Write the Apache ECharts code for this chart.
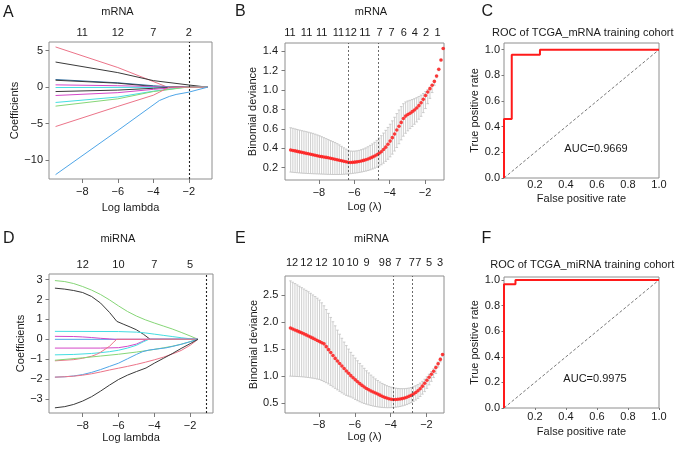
<!DOCTYPE html>
<html><head><meta charset="utf-8">
<script src="https://cdn.jsdelivr.net/npm/echarts@6/dist/echarts.min.js"></script>
<style>html,body{margin:0;padding:0;background:#fff}#c{width:677px;height:453px}</style>
</head><body><div id="c"></div>
<script>
// ---------- Panel A: mRNA coefficient paths (log lambda, coefficient) ----------
const mrnaPath1  = [[-9.5,5.52],[-6,2.7],[-3.2,0],[-0.95,0]];
const mrnaPath2  = [[-9.5,3.45],[-6,2.0],[-4,0.9],[-2,0.3],[-0.95,0]];
const mrnaPath3  = [[-9.5,1.05],[-6,0.6],[-4,0.2],[-2.8,0],[-0.95,0]];
const mrnaPath4  = [[-9.5,0.95],[-6,0.55],[-4,0.1],[-3.3,0],[-0.95,0]];
const mrnaPath5  = [[-9.5,0.32],[-6,0.2],[-3.5,0.05],[-2.8,0],[-0.95,0]];
const mrnaPath6  = [[-9.5,-0.05],[-4,-0.02],[-3,0],[-0.95,0]];
const mrnaPath7  = [[-9.5,-0.6],[-6,-0.4],[-4,-0.15],[-2.8,0],[-0.95,0]];
const mrnaPath8  = [[-9.5,-1.14],[-6,-0.75],[-4,-0.3],[-2.5,0],[-0.95,0]];
const mrnaPath9  = [[-9.5,-2.1],[-6,-1.35],[-4,-0.55],[-2.2,0],[-0.95,0]];
const mrnaPath10 = [[-9.5,-2.6],[-6,-1.6],[-4,-0.6],[-2.1,0],[-0.95,0]];
const mrnaPath11 = [[-9.5,-5.4],[-6,-2.64],[-4,-1.1],[-3.1,0],[-0.95,0]];
const mrnaPath12 = [[-9.5,-12.0],[-6,-5.95],[-3.66,-1.83],[-3.1,-1.27],[-2.72,-1.0],[-2,-0.68],[-0.95,0]];
const mrnaTopPos = [-8,-6,-4,-2];
const mrnaTopLab = ['11','12','7','2'];
const mrnaLambdaLine = [-2];

// ---------- Panel B: mRNA CV binomial deviance ----------
const bLogLambda = [-9.600,-9.475,-9.350,-9.225,-9.100,-8.975,-8.850,-8.725,-8.600,-8.475,-8.350,-8.225,-8.100,-7.975,-7.850,-7.725,-7.600,-7.475,-7.350,-7.225,-7.100,-6.975,-6.850,-6.725,-6.600,-6.475,-6.350,-6.225,-6.100,-5.975,-5.850,-5.725,-5.600,-5.475,-5.350,-5.225,-5.100,-4.975,-4.850,-4.725,-4.600,-4.475,-4.350,-4.225,-4.100,-3.975,-3.850,-3.725,-3.600,-3.475,-3.350,-3.225,-3.100,-2.975,-2.850,-2.725,-2.600,-2.475,-2.350,-2.225,-2.100,-1.975,-1.850,-1.725,-1.600,-1.475,-1.350,-1.225,-1.100,-0.975];
const bMean = [0.383,0.378,0.373,0.368,0.363,0.358,0.353,0.348,0.343,0.338,0.333,0.328,0.323,0.318,0.314,0.310,0.306,0.302,0.297,0.292,0.287,0.282,0.277,0.271,0.266,0.261,0.256,0.254,0.255,0.257,0.260,0.264,0.269,0.275,0.282,0.290,0.299,0.309,0.320,0.333,0.348,0.365,0.387,0.412,0.441,0.474,0.510,0.548,0.588,0.628,0.667,0.708,0.732,0.748,0.762,0.778,0.795,0.815,0.840,0.870,0.905,0.945,0.980,1.015,1.050,1.090,1.145,1.215,1.310,1.430];
const bUpper = [0.612,0.606,0.600,0.594,0.588,0.582,0.577,0.572,0.566,0.560,0.554,0.546,0.538,0.530,0.520,0.510,0.500,0.490,0.480,0.470,0.460,0.448,0.435,0.420,0.405,0.392,0.380,0.372,0.370,0.371,0.374,0.379,0.386,0.394,0.404,0.416,0.430,0.445,0.462,0.482,0.505,0.530,0.557,0.585,0.615,0.648,0.683,0.720,0.758,0.795,0.830,0.860,0.878,0.888,0.895,0.903,0.912,0.922,0.934,0.948,0.965,0.985,1.005,1.030,1.060,1.098,1.150,1.218,1.316,1.434];
const bLower = [0.155,0.152,0.150,0.148,0.146,0.144,0.142,0.141,0.140,0.139,0.138,0.137,0.136,0.135,0.134,0.133,0.132,0.131,0.131,0.130,0.130,0.130,0.130,0.131,0.132,0.134,0.136,0.138,0.141,0.144,0.147,0.151,0.155,0.160,0.165,0.171,0.178,0.186,0.195,0.205,0.217,0.230,0.246,0.265,0.287,0.312,0.340,0.372,0.408,0.447,0.487,0.525,0.555,0.580,0.603,0.625,0.648,0.672,0.700,0.730,0.768,0.810,0.860,0.915,0.975,1.050,1.128,1.200,1.302,1.425];
const bTopPos = [-9.64,-8.7,-7.85,-6.9,-6.2,-5.4,-4.57,-3.9,-3.2,-2.58,-1.95,-1.3];
const bTopLab = ['11','11','11','11','12','11','7','7','6','4','2','1'];
const bLambdaLines = [-6.34,-4.65];

// ---------- Panel C: ROC mRNA ----------
const cRoc = [[0,0],[0,0.46],[0.05,0.46],[0.05,0.96],[0.232,0.96],[0.232,1],[1,1]];
const cAuc = 'AUC=0.9669';

// ---------- Panel D: miRNA coefficient paths ----------
const mirPath1  = [[-9.55,2.95],[-9,2.9],[-8.5,2.8],[-8,2.65],[-7.5,2.47],[-7,2.25],[-6.5,1.98],[-6,1.68],[-5.5,1.4],[-5,1.17],[-4.5,0.98],[-4,0.82],[-3.5,0.67],[-3,0.52],[-2.5,0.35],[-2,0.17],[-1.56,0]];
const mirPath2  = [[-9.55,2.57],[-9,2.52],[-8.5,2.45],[-8,2.35],[-7.5,2.15],[-7,1.82],[-6.5,1.35],[-6.09,0.9],[-5.7,0.75],[-5.35,0.62],[-5,0.48],[-4.6,0.25],[-4.23,0],[-1.56,0]];
const mirPath3  = [[-9.55,0.4],[-6,0.39],[-5,0.36],[-4.5,0.32],[-4,0.26],[-3.5,0.2],[-3,0.14],[-2.5,0.08],[-2,0.03],[-1.56,0]];
const mirPath4  = [[-9.55,0.15],[-8.5,0.14],[-8,0.12],[-7.5,0.09],[-7,0.05],[-6.5,0.02],[-6.2,0],[-1.56,0]];
const mirPath5  = [[-9.55,0],[-1.56,0]];
const mirPath6  = [[-9.55,-0.44],[-7,-0.44],[-6,-0.42],[-5.5,-0.35],[-5,-0.24],[-4.7,-0.12],[-4.4,0],[-1.56,0]];
const mirPath7  = [[-9.55,-0.78],[-8.5,-0.76],[-7.5,-0.71],[-7,-0.67],[-6.5,-0.62],[-6,-0.55],[-5.5,-0.44],[-5,-0.3],[-4.6,-0.12],[-4.3,0],[-1.56,0]];
const mirPath8  = [[-9.55,-1.08],[-8.5,-1.02],[-8,-0.95],[-7.5,-0.85],[-7.23,-0.76],[-7,-0.65],[-6.75,-0.5],[-6.5,-0.35],[-6.3,-0.17],[-6.1,0],[-1.56,0]];
const mirPath9  = [[-9.55,-1.05],[-8,-0.93],[-7,-0.84],[-6,-0.75],[-5,-0.64],[-4.3,-0.55],[-3.5,-0.43],[-3,-0.35],[-2.5,-0.25],[-2,-0.12],[-1.56,0]];
const mirPath10 = [[-9.55,-1.9],[-9,-1.88],[-8.5,-1.84],[-8,-1.77],[-7.5,-1.66],[-7,-1.52],[-6.5,-1.36],[-6,-1.2],[-5.5,-0.98],[-5,-0.76],[-4.65,-0.62],[-4.3,-0.54],[-3.8,-0.48],[-3.35,-0.43],[-3,-0.36],[-2.5,-0.25],[-2,-0.12],[-1.56,0]];
const mirPath11 = [[-9.55,-1.9],[-9,-1.88],[-8.5,-1.85],[-8,-1.8],[-7.5,-1.73],[-7,-1.64],[-6.5,-1.54],[-6,-1.45],[-5.5,-1.36],[-5,-1.26],[-4.5,-1.15],[-4,-1.03],[-3.5,-0.9],[-3,-0.74],[-2.5,-0.56],[-2,-0.3],[-1.56,0]];
const mirPath12 = [[-9.55,-3.44],[-9,-3.38],[-8.5,-3.27],[-8,-3.1],[-7.5,-2.88],[-7,-2.6],[-6.5,-2.3],[-6,-2.02],[-5.5,-1.8],[-5,-1.62],[-4.46,-1.44],[-4,-1.2],[-3.5,-0.96],[-3,-0.72],[-2.5,-0.46],[-2,-0.22],[-1.56,0]];
const mirTopPos = [-8,-6,-4,-2];
const mirTopLab = ['12','10','7','5'];
const mirLambdaLine = [-1.1];

// ---------- Panel E: miRNA CV binomial deviance ----------
const eLogLambda = [-9.600,-9.475,-9.350,-9.225,-9.100,-8.975,-8.850,-8.725,-8.600,-8.475,-8.350,-8.225,-8.100,-7.975,-7.850,-7.725,-7.600,-7.475,-7.350,-7.225,-7.100,-6.975,-6.850,-6.725,-6.600,-6.475,-6.350,-6.225,-6.100,-5.975,-5.850,-5.725,-5.600,-5.475,-5.350,-5.225,-5.100,-4.975,-4.850,-4.725,-4.600,-4.475,-4.350,-4.225,-4.100,-3.975,-3.850,-3.725,-3.600,-3.475,-3.350,-3.225,-3.100,-2.975,-2.850,-2.725,-2.600,-2.475,-2.350,-2.225,-2.100,-1.975,-1.850,-1.725,-1.600,-1.475,-1.350,-1.225,-1.100];
const eMean = [1.890,1.872,1.854,1.836,1.818,1.800,1.782,1.762,1.742,1.722,1.702,1.681,1.660,1.639,1.618,1.597,1.545,1.490,1.436,1.382,1.328,1.281,1.234,1.188,1.142,1.097,1.053,1.010,0.970,0.932,0.896,0.862,0.830,0.800,0.773,0.749,0.727,0.707,0.689,0.672,0.650,0.630,0.612,0.596,0.584,0.575,0.570,0.570,0.573,0.578,0.586,0.597,0.611,0.628,0.648,0.671,0.698,0.730,0.768,0.816,0.870,0.925,0.980,1.035,1.092,1.160,1.230,1.310,1.400];
const eUpper = [2.760,2.735,2.710,2.685,2.660,2.635,2.610,2.585,2.560,2.530,2.500,2.470,2.440,2.405,2.355,2.300,2.230,2.160,2.085,2.005,1.930,1.850,1.775,1.700,1.630,1.565,1.500,1.440,1.385,1.335,1.285,1.235,1.190,1.145,1.100,1.060,1.020,0.985,0.950,0.920,0.892,0.866,0.845,0.826,0.810,0.797,0.787,0.779,0.773,0.770,0.769,0.770,0.774,0.781,0.791,0.805,0.823,0.845,0.872,0.905,0.944,0.988,1.035,1.084,1.135,1.190,1.260,1.335,1.415];
const eLower = [1.000,0.998,0.996,0.994,0.992,0.989,0.985,0.980,0.976,0.970,0.963,0.955,0.947,0.938,0.920,0.900,0.880,0.857,0.830,0.802,0.775,0.748,0.720,0.692,0.668,0.645,0.630,0.615,0.595,0.570,0.548,0.528,0.510,0.495,0.482,0.470,0.458,0.448,0.440,0.433,0.427,0.423,0.420,0.418,0.418,0.419,0.422,0.427,0.433,0.440,0.450,0.462,0.476,0.493,0.512,0.535,0.560,0.590,0.625,0.668,0.715,0.775,0.840,0.905,0.975,1.050,1.170,1.265,1.370];
const eTopPos = [-9.51,-8.71,-7.87,-6.93,-6.13,-5.35,-4.50,-4.13,-3.57,-2.82,-2.45,-1.85,-1.24];
const eTopLab = ['12','12','12','10','10','9','9','8','7','7','7','5','3'];
const eLambdaLines = [-3.86,-2.78];

// ---------- Panel F: ROC miRNA ----------
const fRoc = [[0,0],[0,0.966],[0.074,0.966],[0.074,1],[1,1]];
const fAuc = 'AUC=0.9975';

const diagonal = [[0,0],[1,1]];

// ================= rendering =================
const FONT = '"Liberation Sans", Arial, Helvetica, sans-serif';
const TXT = '#1a1a1a';
const TICKC = '#7a7a7a';
const BOX = '#8e8e8e';
const minus = s => String(s).replace('-', '\u2212');
const textStyle = {color: TXT, fontSize: 11, fontFamily: FONT};

function grid(left, top, width, height) {
  return {left, top, width, height, show: true, borderColor: BOX, borderWidth: 1,
          backgroundColor: 'transparent', containLabel: false, outerBoundsMode: 'none'};
}
function xBottom(gi, min, max, ticks, dec, margin, name, gap, tickLen) {
  return {type: 'value', gridIndex: gi, position: 'bottom', min, max,
    axisLine: {show: false, onZero: false}, splitLine: {show: false},
    axisTick: {show: tickLen > 0, customValues: ticks, length: tickLen, lineStyle: {color: TICKC, width: 1}},
    axisLabel: Object.assign({customValues: ticks, margin, formatter: v => minus(v.toFixed(dec))}, textStyle),
    name, nameLocation: 'middle', nameGap: gap, nameTextStyle: textStyle};
}
function xTop(gi, min, max, pos, labs, margin) {
  return {type: 'value', gridIndex: gi, position: 'top', min, max,
    axisLine: {show: false, onZero: false}, splitLine: {show: false}, axisTick: {show: false},
    axisLabel: Object.assign({customValues: pos, margin, formatter: v => {
      let b = 0; pos.forEach((p, i) => { if (Math.abs(p - v) < Math.abs(pos[b] - v)) b = i; });
      return labs[b]; }}, textStyle)};
}
function yLeft(gi, min, max, ticks, dec, margin, name, gap, tickLen) {
  return {type: 'value', gridIndex: gi, position: 'left', min, max,
    axisLine: {show: false, onZero: false}, splitLine: {show: false},
    axisTick: {show: true, customValues: ticks, length: tickLen, lineStyle: {color: TICKC, width: 1}},
    axisLabel: Object.assign({customValues: ticks, margin, formatter: v => minus(v.toFixed(dec))}, textStyle),
    name, nameLocation: 'middle', nameGap: gap, nameRotate: 90, nameTextStyle: textStyle};
}

const grids = [
  grid(49, 42, 163, 137),   // A
  grid(285, 43, 159, 137),  // B
  grid(504, 43, 155, 135),  // C
  grid(49, 274, 164, 139),  // D
  grid(285, 276, 159, 137), // E
  grid(504, 277, 155, 131)  // F
];
const xAxes = [
  xBottom(0, -9.87, -0.70, [-8,-6,-4,-2], 0, 7.8, 'Log lambda', 23, 4),       // 0
  xTop(0, -9.87, -0.70, mrnaTopPos, mrnaTopLab, 4),                         // 1
  xBottom(1, -9.92, -0.93, [-8,-6,-4,-2], 0, 7.8, 'Log (\u03bb)', 21, 4),   // 2
  xTop(1, -9.92, -0.93, bTopPos, bTopLab, 4.7),                             // 3
  xBottom(2, 0, 1, [0.2,0.4,0.6,0.8,1.0], 1, 1.5, 'False positive rate', 15, 0), // 4
  xBottom(3, -9.88, -0.72, [-8,-6,-4,-2], 0, 7.2, 'Log lambda', 19.7, 4),    // 5
  xTop(3, -9.88, -0.72, mirTopPos, mirTopLab, 4),                           // 6
  xBottom(4, -9.905, -1.02, [-8,-6,-4,-2], 0, 6.2, 'Log (\u03bb)', 18.5, 4), // 7
  xTop(4, -9.905, -1.02, eTopPos, eTopLab, 7.3),                            // 8
  xBottom(5, 0, 1, [0.2,0.4,0.6,0.8,1.0], 1, 3.5, 'False positive rate', 18, 2)  // 9
];
const yAxes = [
  yLeft(0, -12.6, 6.2, [-10,-5,0,5], 0, 6, 'Coefficients', 22.5, 3.5),
  yLeft(1, 0.073, 1.486, [0.2,0.4,0.6,0.8,1.0,1.2,1.4], 1, 7, 'Binomial deviance', 26, 3.5),
  yLeft(2, 0, 1.052, [0,0.2,0.4,0.6,0.8,1.0], 1, 4, 'True positive rate', 23, 2.5),
  yLeft(3, -3.7, 3.28, [-3,-2,-1,0,1,2,3], 0, 6.3, 'Coefficients', 22.5, 3.5),
  yLeft(4, 0.32, 2.85, [0.5,1.0,1.5,2.0,2.5], 1, 6.7, 'Binomial deviance', 25, 3.5),
  yLeft(5, 0, 1.023, [0,0.2,0.4,0.6,0.8,1.0], 1, 4, 'True positive rate', 23, 2.5)
];

const C = {black: '#3a3a3a', pink: '#EC7489', green: '#86D677', blue: '#4FA6E8', cyan: '#45DEE2', magenta: '#D448C8', navy: '#3570a0'};
const series = [];
function paths(list, colors, xi, yi) {
  list.forEach((p, i) => series.push({type: 'line', xAxisIndex: xi, yAxisIndex: yi, data: p,
    symbol: 'none', lineStyle: {color: colors[i], width: 1}, z: 3}));
}
function vlines(xi, yi, vals, color, width, dash) {
  series.push({type: 'line', xAxisIndex: xi, yAxisIndex: yi, data: [], symbol: 'none',
    markLine: {silent: true, symbol: ['none','none'], label: {show: false}, animation: false,
      lineStyle: {color, width, type: dash}, data: vals.map(v => ({xAxis: v}))}});
}
function cv(xi, yi, xs, mean, lo, hi) {
  series.push({type: 'custom', xAxisIndex: xi, yAxisIndex: yi,
    data: xs.map((x, i) => [x, lo[i], hi[i]]), encode: {x: 0, y: [1, 2]},
    renderItem: (params, api) => {
      const a = api.coord([api.value(0), api.value(1)]);
      const b = api.coord([api.value(0), api.value(2)]);
      const st = {stroke: '#c2c2c2', lineWidth: 0.8};
      return {type: 'group', children: [
        {type: 'line', shape: {x1: a[0], y1: a[1], x2: b[0], y2: b[1]}, style: st},
        {type: 'line', shape: {x1: a[0]-1.3, y1: a[1], x2: a[0]+1.3, y2: a[1]}, style: st},
        {type: 'line', shape: {x1: b[0]-1.3, y1: b[1], x2: b[0]+1.3, y2: b[1]}, style: st}]};
    }, z: 2});
  series.push({type: 'scatter', xAxisIndex: xi, yAxisIndex: yi, data: xs.map((x, i) => [x, mean[i]]),
    symbolSize: 3.6, itemStyle: {color: '#ff1010'}, z: 4});
}
function roc(xi, yi, pts) {
  series.push({type: 'line', xAxisIndex: xi, yAxisIndex: yi, data: diagonal, symbol: 'none', clip: false,
    lineStyle: {color: '#555', width: 0.8, type: [3, 2]}, z: 2});
  series.push({type: 'line', xAxisIndex: xi, yAxisIndex: yi, data: pts, symbol: 'none', clip: false,
    lineStyle: {color: '#ff1a1a', width: 2}, z: 3});
}

// A
paths([mrnaPath1, mrnaPath2, mrnaPath3, mrnaPath4, mrnaPath5, mrnaPath6, mrnaPath7, mrnaPath8, mrnaPath9, mrnaPath10, mrnaPath11, mrnaPath12],
      [C.pink, C.black, C.navy, C.black, C.magenta, C.cyan, C.black, C.magenta, C.cyan, C.green, C.pink, C.blue], 0, 0);
vlines(0, 0, mrnaLambdaLine, '#222', 1.1, [2, 2]);
// B
cv(2, 1, bLogLambda, bMean, bLower, bUpper);
vlines(2, 1, bLambdaLines, '#444', 0.8, [2, 2]);
// C
roc(4, 2, cRoc);
// D
paths([mirPath1, mirPath2, mirPath3, mirPath5, mirPath4, mirPath6, mirPath7, mirPath8, mirPath9, mirPath10, mirPath11, mirPath12],
      [C.green, C.black, C.cyan, C.blue, C.magenta, C.magenta, C.cyan, C.pink, C.green, C.blue, C.pink, C.black], 5, 3);
vlines(5, 3, mirLambdaLine, '#222', 1.1, [2, 2]);
// E
cv(7, 4, eLogLambda, eMean, eLower, eUpper);
vlines(7, 4, eLambdaLines, '#444', 0.8, [2, 2]);
// F
roc(9, 5, fRoc);

function txt(text, x, y, size, align) {
  return {type: 'text', x, y, silent: true, z: 10,
    style: {text, fill: TXT, font: size + 'px ' + FONT, align: align || 'center', verticalAlign: 'middle'}};
}
const graphics = [
  txt('A', 3, 12.5, 16, 'left'), txt('B', 235, 12, 16, 'left'), txt('C', 481.5, 11.5, 16, 'left'),
  txt('D', 3, 238.8, 16, 'left'), txt('E', 235, 238.5, 16, 'left'), txt('F', 481.5, 238.8, 16, 'left'),
  txt('mRNA', 117.5, 12, 11), txt('mRNA', 371, 12.3, 11),
  txt('miRNA', 117.8, 239.3, 11), txt('miRNA', 371.5, 239.3, 11),
  txt('ROC of TCGA_mRNA training cohort', 582.8, 33.3, 11),
  txt('ROC of TCGA_miRNA training cohort', 582.2, 265, 11),
  txt(cAuc, 596, 149, 11), txt(fAuc, 595, 379.3, 11)
];

const chart = echarts.init(document.getElementById('c'), null, {renderer: 'canvas'});
chart.setOption({animation: false, backgroundColor: '#fff', grid: grids, xAxis: xAxes, yAxis: yAxes,
  series, graphic: graphics});
</script></body></html>
